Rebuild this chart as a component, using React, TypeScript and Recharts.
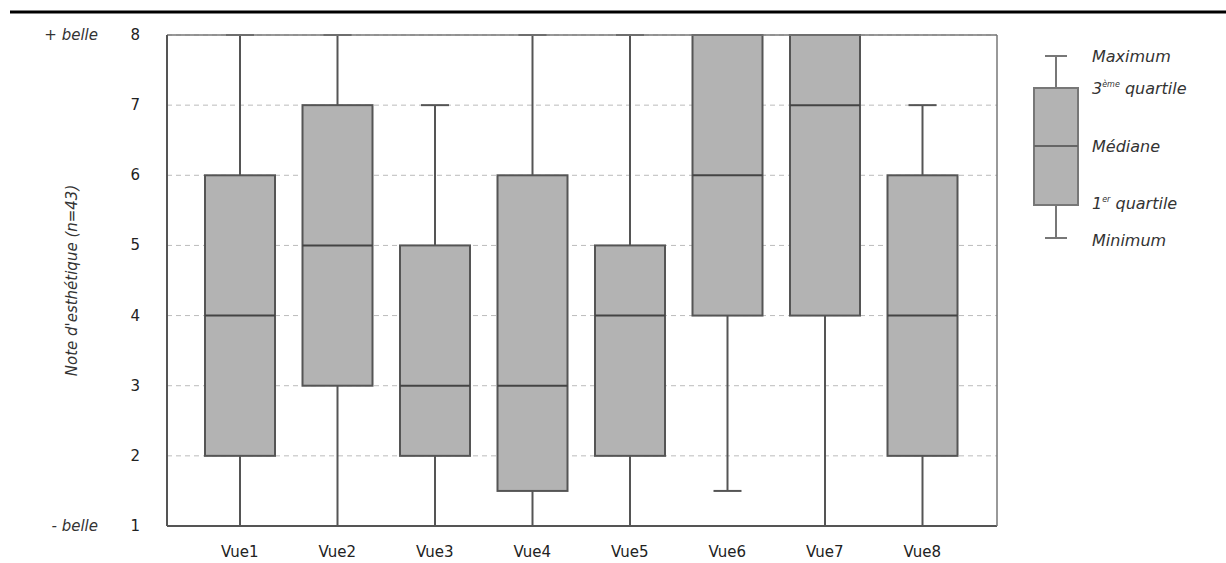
import { ComposedChart, Bar, XAxis, YAxis, CartesianGrid } from "recharts"

const views = ["Vue1", "Vue2", "Vue3", "Vue4", "Vue5", "Vue6", "Vue7", "Vue8"]
const minimum = [1, 1, 1, 1, 1, 1.5, 1, 1]
const firstQuartile = [2, 3, 2, 1.5, 2, 4, 4, 2]
const median = [4, 5, 3, 3, 4, 6, 7, 4]
const thirdQuartile = [6, 7, 5, 6, 5, 8, 8, 6]
const maximum = [8, 8, 7, 8, 8, 8, 8, 7]
const yTicks = [1, 2, 3, 4, 5, 6, 7, 8]

const data = views.map((name, i) => ({
  name,
  range: [minimum[i], maximum[i]],
  min: minimum[i],
  q1: firstQuartile[i],
  med: median[i],
  q3: thirdQuartile[i],
  max: maximum[i],
}))

const font = "'DejaVu Sans', sans-serif"
const edge = "#555"
const boxFill = "#b3b3b3"

function BoxShape(props: any) {
  const { x, y, width, height, payload } = props
  const lo = payload.min
  const hi = payload.max
  const py = (v: number) => y + height - ((v - lo) / (hi - lo)) * height
  const cx = x + width / 2
  const cap = 14
  return (
    <g>
      <line x1={cx} x2={cx} y1={py(payload.max)} y2={py(payload.q3)} stroke={edge} strokeWidth={2} />
      <line x1={cx} x2={cx} y1={py(payload.q1)} y2={py(payload.min)} stroke={edge} strokeWidth={2} />
      <line x1={cx - cap} x2={cx + cap} y1={py(payload.max)} y2={py(payload.max)} stroke={edge} strokeWidth={2} />
      <line x1={cx - cap} x2={cx + cap} y1={py(payload.min)} y2={py(payload.min)} stroke={edge} strokeWidth={2} />
      <rect x={x} y={py(payload.q3)} width={width} height={py(payload.q1) - py(payload.q3)} fill={boxFill} stroke={edge} strokeWidth={2} />
      <line x1={x} x2={x + width} y1={py(payload.med)} y2={py(payload.med)} stroke="#444" strokeWidth={2} />
    </g>
  )
}

function YTick(props: any) {
  const { x, y, payload } = props
  const extra = payload.value === 8 ? "+ belle" : payload.value === 1 ? "- belle" : null
  return (
    <g>
      <text x={x} y={y} dy={5} textAnchor="end" fontFamily={font} fontSize={15} fill="#222">
        {payload.value}
      </text>
      {extra && (
        <text x={x - 42} y={y} dy={5} textAnchor="end" fontFamily={font} fontSize={15} fontStyle="italic" fill="#333">
          {extra}
        </text>
      )}
    </g>
  )
}

function Legend() {
  const lx = 1056
  const label = { fontFamily: font, fontSize: 16, fontStyle: "italic" as const, fill: "#333" }
  return (
    <svg width={1226} height={563} style={{ position: "absolute", left: 0, top: 0, pointerEvents: "none" }}>
      <line x1={10} x2={1226} y1={12} y2={12} stroke="#000" strokeWidth={3} />
      <line x1={lx} x2={lx} y1={56} y2={88} stroke="#777" strokeWidth={2} />
      <line x1={lx} x2={lx} y1={205} y2={238} stroke="#777" strokeWidth={2} />
      <line x1={lx - 11} x2={lx + 11} y1={56} y2={56} stroke="#777" strokeWidth={2} />
      <line x1={lx - 11} x2={lx + 11} y1={238} y2={238} stroke="#777" strokeWidth={2} />
      <rect x={1034} y={88} width={44} height={117} fill={boxFill} stroke="#777" strokeWidth={2} />
      <line x1={1034} x2={1078} y1={146} y2={146} stroke="#666" strokeWidth={2} />
      <text x={1092} y={62} {...label}>Maximum</text>
      <text x={1092} y={94} {...label}>
        3<tspan fontSize={8} dy={-7}>ème</tspan>
        <tspan dy={7}> quartile</tspan>
      </text>
      <text x={1092} y={152} {...label}>Médiane</text>
      <text x={1092} y={209} {...label}>
        1<tspan fontSize={8} dy={-7}>er</tspan>
        <tspan dy={7}> quartile</tspan>
      </text>
      <text x={1092} y={246} {...label}>Minimum</text>
    </svg>
  )
}

export default function App() {
  return (
    <div style={{ position: "absolute", left: 0, top: 0, width: 1226, height: 563, background: "#fff" }}>
      <ComposedChart
        width={1226}
        height={563}
        data={data}
        margin={{ top: 34, right: 228, bottom: 0, left: 107 }}
      >
        <CartesianGrid horizontal vertical={false} stroke="#bbb" strokeDasharray="5 4" />
        <XAxis
          dataKey="name"
          padding={{ left: 24, right: 26 }}
          axisLine={{ stroke: edge, strokeWidth: 2 }}
          tickLine={false}
          tickMargin={14}
          tick={{ fontFamily: font, fontSize: 15, fill: "#222" }}
          height={37}
        />
        <XAxis
          xAxisId="top"
          dataKey="name"
          orientation="top"
          axisLine={{ stroke: "#777", strokeWidth: 1.5 }}
          tick={false}
          tickLine={false}
          height={1}
        />
        <YAxis
          type="number"
          domain={[1, 8]}
          ticks={yTicks}
          interval={0}
          width={60}
          axisLine={{ stroke: edge, strokeWidth: 2 }}
          tickLine={false}
          tickSize={0}
          tickMargin={27}
          tick={<YTick />}
          label={{
            value: "Note d'esthétique (n=43)",
            angle: -90,
            position: "insideLeft",
            offset: 0,
            dx: -35,
            style: { fontFamily: font, fontSize: 15, fontStyle: "italic", fill: "#333", textAnchor: "middle" },
          }}
        />
        <YAxis
          yAxisId="right"
          orientation="right"
          domain={[1, 8]}
          width={1}
          axisLine={{ stroke: "#777", strokeWidth: 1.5 }}
          tick={false}
          tickLine={false}
        />
        <Bar dataKey="range" barSize={70} shape={<BoxShape />} isAnimationActive={false} />
      </ComposedChart>
      <Legend />
    </div>
  )
}
